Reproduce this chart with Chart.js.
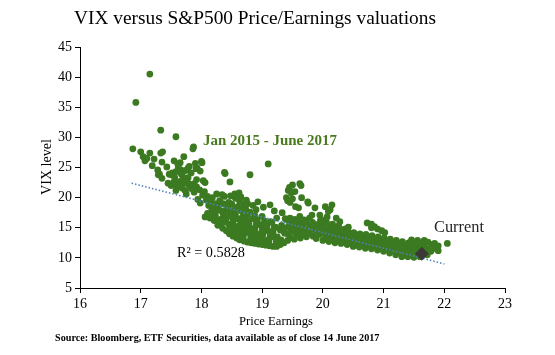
<!DOCTYPE html>
<html>
<head>
<meta charset="utf-8">
<script src="https://cdn.jsdelivr.net/npm/chart.js@4.4.1/dist/chart.umd.min.js"></script>
<style>
html,body{margin:0;padding:0;background:#fff;}
canvas{display:block;}
</style>
</head>
<body>
<canvas id="c" width="555" height="355"></canvas>
<script>
// ---- DATA ----
const chartTitle = 'VIX versus S&P500 Price/Earnings valuations';
const xAxisTitle = 'Price Earnings';
const yAxisTitle = 'VIX level';
const periodLabel = 'Jan 2015 - June 2017';
const currentLabel = 'Current';
const rSquaredLabel = 'R\u00B2 = 0.5828';
const sourceText = 'Source: Bloomberg, ETF Securities, data available as of close 14 June 2017';

const xTicks = [16, 17, 18, 19, 20, 21, 22, 23];
const yTicks = [5, 10, 15, 20, 25, 30, 35, 40, 45];

const observations = [
[16.87,28.1],[16.92,35.8],[17.15,40.5],[17.33,31.2],[17.58,30.1],
[17.0,27.6],[17.04,26.8],[17.07,26.1],[17.1,26.5],[17.15,27.4],[17.19,25.3],[17.22,26.4],[17.33,27.4],[17.35,25.9],[17.36,27.6],[17.43,25.1],[17.55,26.1],[17.61,25.6],[17.65,25.8],[17.71,26.8],[17.78,24.9],[17.86,28.1],[17.87,28.4],[17.93,24.9],[18.0,26.0],[18.01,25.8],[17.28,24.6],
[17.29,23.8],[17.31,23.9],[17.35,23.2],[17.47,23.9],[17.5,23.8],[17.52,24.1],[17.58,24.3],[17.62,25.0],[17.66,24.6],[17.67,23.9],[17.69,24.2],[17.74,24.5],[17.8,25.2],[17.83,24.1],[17.9,25.7],[17.91,24.8],[17.98,24.4],[17.56,23.3],[17.78,23.3],[17.7,23.3],[18.03,22.8],[18.06,22.5],[18.38,24.2],[18.39,24.0],[18.47,22.6],[18.8,23.8],[19.1,25.6],
[17.45,22.4],[17.5,22.0],[17.53,22.3],[17.55,22.6],[17.6,21.9],[17.62,22.1],[17.65,22.7],[17.68,21.6],[17.72,22.4],[17.73,21.2],[17.79,22.3],[17.8,22.0],[17.83,21.5],[17.86,22.1],[17.88,20.9],[17.88,22.3],[17.92,21.8],[17.92,23.0],[17.97,21.3],[17.58,21.2],[17.75,20.6],
[17.94,19.7],[17.98,19.1],[18.02,20.4],[18.05,21.0],[18.08,19.6],[18.1,20.2],[18.12,18.7],[18.15,19.3],[18.18,20.0],[18.2,18.2],[18.22,19.0],[18.25,20.6],[18.28,18.6],[18.3,19.5],[18.33,17.8],[18.36,19.0],[18.38,20.2],[18.42,18.3],[18.45,19.2],[18.48,20.3],[18.5,18.9],[18.53,17.9],[18.56,19.9],[18.6,18.5],[18.63,19.4],[18.66,17.9],[18.7,18.8],[18.73,18.1],[18.76,19.0],[18.8,17.6],[18.55,20.6],[18.65,20.1],[18.74,19.6],[18.34,20.5],[18.62,20.8],
[18.06,16.8],[18.1,17.4],[18.17,18.0],[18.14,16.6],[18.2,17.0],
[18.9,18.0],[18.93,19.3],[19.13,18.8],[19.02,18.4],[18.85,18.7],[19.2,17.8],[19.33,17.5],
[19.62,22.3],[19.64,22.0],[19.43,21.2],[19.45,21.7],[19.48,20.8],[19.5,22.1],[19.4,20.0],[19.42,19.5],[19.46,19.2],[19.5,19.8],[19.55,18.5],[19.6,18.3],[19.54,21.0],[19.75,19.3],[19.76,19.1],[19.87,18.3],[19.65,20.0],
[20.15,18.8],[20.12,18.0],[20.09,17.7],[20.04,18.5],[20.07,16.8],[20.28,16.0],[20.22,16.6],[19.95,17.1],[19.82,17.1],[20.03,16.3],[19.62,16.9],[19.46,16.6],
[20.73,15.8],[20.8,15.6],[20.85,15.2],[20.9,14.8],[20.97,14.5],[21.02,14.2],[20.8,15.0],[20.37,14.8],[20.42,15.1],
[18.21,16.2],[18.23,17.0],[18.2,17.6],
[18.27,15.4],[18.29,16.3],[18.26,17.9],
[18.35,14.9],[18.33,15.7],[18.34,16.5],[18.36,17.3],
[18.41,14.5],[18.4,16.0],[18.42,16.8],[18.38,17.6],
[18.46,14.0],[18.47,14.8],[18.45,15.6],[18.48,17.2],[18.44,18.0],
[18.52,13.6],[18.51,14.4],[18.53,15.2],[18.52,16.0],[18.5,16.8],
[18.58,13.3],[18.57,14.1],[18.59,14.9],[18.6,16.5],[18.56,17.3],[18.58,18.1],
[18.63,13.0],[18.65,13.8],[18.64,14.6],[18.62,15.4],[18.65,16.2],[18.66,17.8],
[18.7,12.8],[18.69,13.6],[18.71,14.4],[18.7,15.2],[18.72,16.0],[18.68,16.8],
[18.76,12.6],[18.75,14.2],[18.76,15.0],[18.78,15.8],[18.74,16.6],[18.76,17.3],
[18.82,12.5],[18.81,13.3],[18.83,14.1],[18.82,14.9],[18.84,16.5],
[18.88,12.4],[18.87,13.2],[18.89,14.0],[18.88,14.8],[18.9,15.6],[18.88,17.0],
[18.94,12.3],[18.95,13.1],[18.93,13.9],[18.96,15.5],[18.92,16.3],
[19.0,12.2],[18.99,13.0],[19.01,13.8],[19.0,14.6],[19.02,15.4],[19.0,16.9],
[19.06,12.1],[19.07,12.9],[19.06,14.5],[19.08,15.3],[19.04,16.1],
[19.12,12.0],[19.11,12.8],[19.13,13.6],[19.12,14.4],[19.14,16.0],
[19.18,11.9],[19.17,13.5],[19.18,14.3],[19.2,15.1],[19.16,15.9],
[19.24,11.9],[19.23,12.7],[19.25,13.5],[19.22,15.1],[19.24,16.6],
[19.3,12.2],[19.31,13.0],[19.3,14.6],[19.32,15.4],
[19.36,12.5],[19.37,14.1],[19.36,14.9],[19.38,16.5],
[19.42,12.9],[19.42,14.0],[19.43,15.2],[19.44,16.1],
[19.47,13.4],[19.47,14.6],[19.48,15.7],
[19.53,13.1],[19.53,14.3],[19.52,15.4],[19.54,16.4],
[19.58,13.8],[19.58,14.9],[19.59,16.0],
[19.63,13.3],[19.64,14.4],[19.63,15.6],
[19.68,14.0],[19.68,15.1],[19.69,16.3],
[19.73,13.5],[19.73,14.7],[19.72,15.9],
[19.78,14.1],[19.79,15.4],[19.78,16.6],
[19.84,13.6],[19.84,14.8],[19.83,15.9],
[19.89,13.2],[19.89,14.3],[19.9,15.5],
[19.95,13.9],[19.95,15.0],[19.96,16.2],
[20.0,12.9],[20.0,14.2],[20.01,15.6],
[20.05,13.5],[20.05,14.7],[20.06,15.9],
[20.1,12.7],[20.1,13.9],[20.11,15.1],
[20.15,13.3],[20.15,14.5],[20.16,15.6],
[20.2,12.5],[20.2,13.8],[20.21,14.9],
[20.25,13.1],[20.25,14.3],[20.26,15.3],
[20.3,12.4],[20.3,13.6],[20.31,14.7],
[20.35,12.9],[20.35,14.1],
[20.4,12.2],[20.4,13.4],[20.41,14.5],
[20.45,12.7],[20.45,13.9],
[20.5,11.9],[20.5,13.1],[20.51,14.2],
[20.55,12.5],[20.55,13.6],
[20.6,11.8],[20.6,12.9],[20.61,14.0],
[20.65,12.3],[20.65,13.5],
[20.7,11.6],[20.7,12.8],[20.71,13.9],
[20.75,12.1],[20.75,13.3],
[20.8,11.5],[20.8,12.6],[20.81,13.7],
[20.85,12.0],[20.85,13.1],
[20.9,11.3],[20.9,12.5],[20.91,13.5],
[20.95,11.8],[20.95,12.9],
[21.0,11.1],[21.0,12.3],[21.01,13.3],
[21.05,11.6],[21.05,12.7],
[21.1,10.8],[21.1,12.0],[21.11,13.1],
[21.15,11.4],[21.15,12.5],
[21.2,10.5],[21.2,11.7],[21.21,12.9],
[21.25,11.1],[21.25,12.3],
[21.3,10.2],[21.3,11.5],[21.31,12.7],
[21.35,10.8],[21.35,12.0],
[21.4,10.2],[21.4,11.3],[21.41,12.5],
[21.45,10.7],[21.45,11.9],[21.46,13.0],
[21.5,10.1],[21.5,11.2],[21.51,12.3],
[21.55,10.6],[21.55,11.8],[21.56,12.9],
[21.6,10.2],[21.6,11.4],[21.61,12.5],
[21.66,10.8],[21.66,12.0],[21.67,12.9],
[21.72,10.5],[21.72,11.5],[21.73,12.6],
[21.78,11.1],[21.78,12.2],
[21.84,11.6],[21.84,12.4],
[21.9,11.2],[21.9,12.0],
[22.05,12.4]
];

const currentPE = [21.63];
const currentVIX = [10.7];

// linear trend line end points
const trendPE = [16.85, 22.0];
const trendVIX = [22.4, 9.0];

// ---- CHART ----
const SERIF = '"Liberation Serif", "DejaVu Serif", serif';
const GREEN = '#3c7a22';

function fitFont(c, text, weight, target, base){
  c.font = weight + ' ' + base + 'px ' + SERIF;
  const w = c.measureText(text).width;
  const size = base * target / w;
  c.font = weight + ' ' + size.toFixed(2) + 'px ' + SERIF;
}
function put(c, text, x, y, opt){
  c.save();
  fitFont(c, text, opt.weight || 'normal', opt.width, opt.base || 14);
  c.fillStyle = opt.color || '#000';
  c.textAlign = opt.align || 'left';
  c.textBaseline = 'middle';
  if (opt.rotate){
    c.translate(x, y);
    c.rotate(opt.rotate);
    c.fillText(text, 0, 0);
  } else {
    c.fillText(text, x, y);
  }
  c.restore();
}

const textPlugin = {
  id: 'chartTexts',
  afterDraw(chart){
    const c = chart.ctx;
    put(c, chartTitle, 255, 19, {width: 362, base: 19, align: 'center'});
    put(c, periodLabel, 203, 141, {width: 134, base: 13, weight: 'bold', color: '#4a7a1e'});
    put(c, rSquaredLabel, 177, 253, {width: 68, base: 14});
    put(c, currentLabel, 434, 228, {width: 50, base: 14, color: '#262626'});
    put(c, xAxisTitle, 276, 322, {width: 74, base: 13, align: 'center'});
    put(c, yAxisTitle, 47, 167, {width: 56, base: 13, align: 'center', rotate: -Math.PI/2});
    put(c, sourceText, 55, 338, {width: 325, base: 10, weight: 'bold'});
  }
};

const tickFont = {family: SERIF, size: 14};

new Chart(document.getElementById('c'), {
  type: 'scatter',
  data: {
    datasets: [
      {
        label: currentLabel,
        data: currentPE.map((x, i) => ({x: x, y: currentVIX[i]})),
        pointStyle: 'rectRot',
        pointRadius: 7,
        backgroundColor: '#3b3838',
        borderColor: '#3b3838',
        borderWidth: 0,
        order: 0
      },
      {
        label: 'Trend',
        type: 'line',
        data: trendPE.map((x, i) => ({x: x, y: trendVIX[i]})),
        borderColor: '#4f81bd',
        borderWidth: 1.5,
        borderDash: [1.5, 2],
        pointRadius: 0,
        fill: false,
        order: 1
      },
      {
        label: periodLabel,
        data: observations.map(p => ({x: p[0], y: p[1]})),
        pointRadius: 3.4,
        backgroundColor: GREEN,
        borderColor: GREEN,
        borderWidth: 0,
        order: 2
      }
    ]
  },
  options: {
    responsive: false,
    animation: false,
    layout: {padding: {left: 0, top: 47, right: 50, bottom: 42}},
    plugins: {legend: {display: false}, tooltip: {enabled: false}},
    scales: {
      x: {
        type: 'linear', min: xTicks[0], max: xTicks[xTicks.length - 1],
        afterBuildTicks(s){ s.ticks = xTicks.map(v => ({value: v})); },
        ticks: {font: tickFont, color: '#000', padding: 3, maxRotation: 0},
        grid: {drawOnChartArea: false, drawTicks: true, tickLength: 5, color: '#000'},
        border: {display: true, color: '#000', width: 1},
        afterFit(s){ s.height = 25; }
      },
      y: {
        type: 'linear', min: yTicks[0], max: yTicks[yTicks.length - 1],
        afterBuildTicks(s){ s.ticks = yTicks.map(v => ({value: v})); },
        ticks: {font: tickFont, color: '#000', padding: 3},
        grid: {drawOnChartArea: false, drawTicks: true, tickLength: 5, color: '#000'},
        border: {display: true, color: '#000', width: 1},
        afterFit(s){ s.width = 80; }
      }
    }
  },
  plugins: [textPlugin]
});
</script>
</body>
</html>
